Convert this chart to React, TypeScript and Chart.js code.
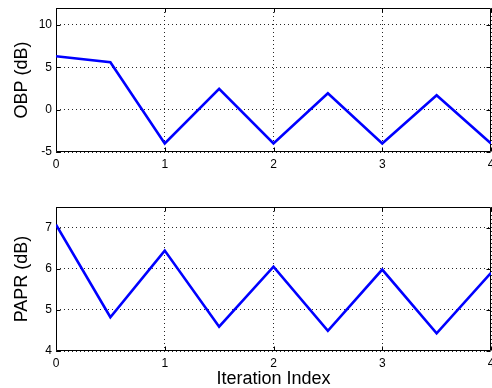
import React, { useEffect, useRef } from "react";
import { Chart, registerables } from "chart.js";

Chart.register(...registerables);

// ---- data ----
const iterations = [0, 0.5, 1, 1.5, 2, 2.5, 3, 3.5, 4];
const obpValues = [6.3, 5.6, -4.0, 2.45, -4.0, 1.93, -4.0, 1.7, -4.0];
const paprValues = [7.07, 4.82, 6.44, 4.59, 6.05, 4.49, 5.98, 4.43, 5.9];
const xTicks = [0, 1, 2, 3, 4];
const obpTicks = [-5, 0, 5, 10];
const paprTicks = [4, 5, 6, 7];
const xRange = [0, 4];
const obpRange = [-5, 12];
const paprRange = [4, 7.5];
const obpTitle = "OBP (dB)";
const paprTitle = "PAPR (dB)";
const xTitle = "Iteration Index";

const family = "'Liberation Sans', Arial, Helvetica, sans-serif";
const tickFont = { family, size: 12 };
const titleFont = { family, size: 18, lineHeight: 1 };
const gridColor = "rgba(0,0,0,0.85)";

const boxPlugin = {
  id: "matlabBox",
  beforeDatasetsDraw(chart: any) {
    const { ctx, chartArea: a, scales } = chart;
    const L = Math.round(a.left) + 0.5;
    const R = Math.round(a.right) - 0.5;
    const T = Math.round(a.top) + 0.5;
    const B = Math.round(a.bottom) - 0.5;
    const len = 4;
    ctx.save();
    ctx.strokeStyle = "#000";
    ctx.lineWidth = 1;
    ctx.setLineDash([]);
    ctx.beginPath();
    ctx.rect(L, T, R - L, B - T);
    for (const t of scales.x.ticks) {
      const px = Math.round(scales.x.getPixelForValue(t.value)) + 0.5;
      ctx.moveTo(px, B);
      ctx.lineTo(px, B - len);
      ctx.moveTo(px, T);
      ctx.lineTo(px, T + len);
    }
    for (const t of scales.y.ticks) {
      const py = Math.round(scales.y.getPixelForValue(t.value)) + 0.5;
      ctx.moveTo(L, py);
      ctx.lineTo(L + len, py);
      ctx.moveTo(R, py);
      ctx.lineTo(R - len, py);
    }
    ctx.stroke();
    ctx.restore();
  },
};

interface Opts {
  values: number[];
  yTicks: number[];
  yRange: number[];
  yTitle: string;
  xTitle?: string;
  padTop: number;
  xHeight: number;
}

function makeConfig(o: Opts): any {
  return {
    type: "line",
    data: {
      datasets: [
        {
          data: iterations.map((x, i) => ({ x, y: o.values[i] })),
          borderColor: "#0000ff",
          borderWidth: 2.6,
          pointRadius: 0,
          tension: 0,
          fill: false,
        },
      ],
    },
    options: {
      responsive: false,
      animation: false,
      events: [],
      layout: { padding: { top: o.padTop, right: 1, left: 0, bottom: 0 } },
      plugins: {
        legend: { display: false },
        tooltip: { enabled: false },
      },
      scales: {
        x: {
          type: "linear",
          min: xRange[0],
          max: xRange[1],
          afterBuildTicks: (s: any) => {
            s.ticks = xTicks.map((v) => ({ value: v }));
          },
          afterFit: (s: any) => {
            s.height = o.xHeight;
            s.paddingLeft = 0;
            s.paddingRight = 0;
          },
          grid: { color: gridColor, lineWidth: 1, drawTicks: false },
          border: { display: false, dash: [1, 3] },
          ticks: { color: "#000", font: tickFont, padding: 5, maxRotation: 0, autoSkip: false },
          title: o.xTitle
            ? { display: true, text: o.xTitle, color: "#000", font: titleFont, padding: { top: 0, bottom: 0 } }
            : { display: false },
        },
        y: {
          type: "linear",
          min: o.yRange[0],
          max: o.yRange[1],
          afterBuildTicks: (s: any) => {
            s.ticks = o.yTicks.map((v) => ({ value: v }));
          },
          afterFit: (s: any) => {
            s.width = 56;
            s.paddingTop = 0;
            s.paddingBottom = 0;
          },
          grid: { color: gridColor, lineWidth: 1, drawTicks: false },
          border: { display: false, dash: [1, 3] },
          ticks: { color: "#000", font: tickFont, padding: 4, autoSkip: false },
          title: { display: true, text: o.yTitle, color: "#000", font: titleFont, padding: { top: 13, bottom: 0 } },
        },
      },
    },
    plugins: [boxPlugin],
  };
}

function Panel(props: { opts: Opts; width: number; height: number; top: number }) {
  const ref = useRef<HTMLCanvasElement | null>(null);
  useEffect(() => {
    if (!ref.current) return;
    const chart = new Chart(ref.current, makeConfig(props.opts));
    return () => chart.destroy();
  }, []);
  return (
    <canvas
      ref={ref}
      width={props.width}
      height={props.height}
      style={{ position: "absolute", left: 0, top: props.top, width: props.width, height: props.height, display: "block" }}
    />
  );
}

export default function App() {
  return (
    <div style={{ position: "fixed", left: 0, top: 0, width: 492, height: 388, background: "#fff", overflow: "hidden" }}>
      <Panel
        width={492}
        height={180}
        top={0}
        opts={{ values: obpValues, yTicks: obpTicks, yRange: obpRange, yTitle: obpTitle, padTop: 8, xHeight: 28 }}
      />
      <Panel
        width={492}
        height={208}
        top={180}
        opts={{ values: paprValues, yTicks: paprTicks, yRange: paprRange, yTitle: paprTitle, xTitle, padTop: 27, xHeight: 37 }}
      />
    </div>
  );
}
